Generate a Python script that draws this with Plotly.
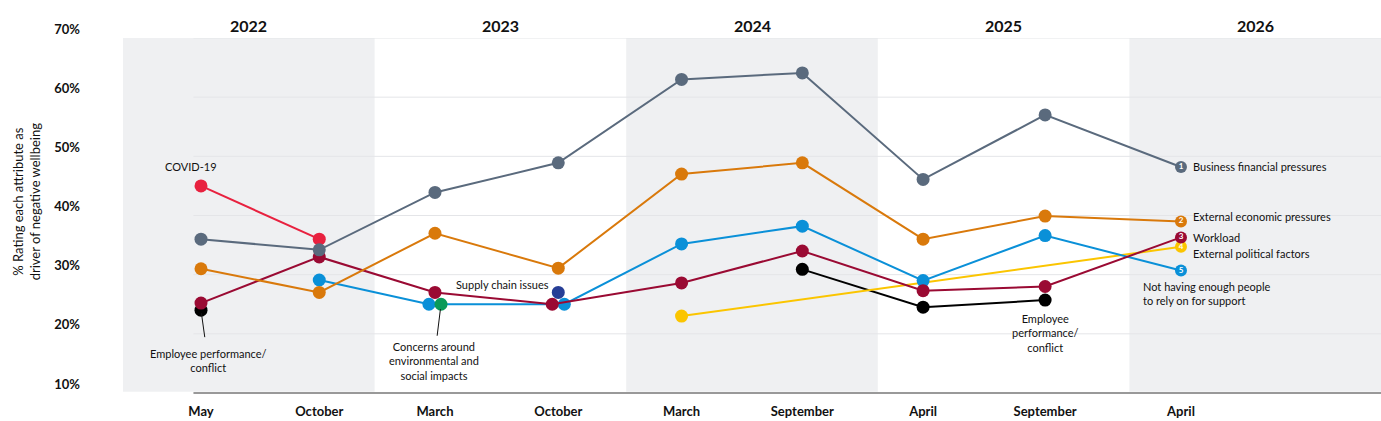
import plotly.graph_objects as go

# ---------------- data ----------------
years = ["2022", "2023", "2024", "2025", "2026"]
survey_labels = ["May", "October", "March", "October", "March", "September", "April", "September", "April"]
# survey timing expressed in fractional years
survey_x = [2022.31, 2022.78, 2023.24, 2023.73, 2024.22, 2024.70, 2025.18, 2025.665, 2026.205]

business_financial = [36.0, 34.2, 43.9, 48.9, 63.0, 64.1, 46.1, 57.0, 48.2]
external_economic = [31.0, 27.0, 37.0, 31.1, 47.0, 48.9, 36.0, 39.9, 39.0]
workload = [25.2, 33.0, 27.0, 25.0, 28.6, 34.0, 27.3, 28.0, 36.3]
not_enough_people = [None, 29.1, 25.0, 25.0, 35.2, 38.2, 29.0, 36.6, 30.7]
external_political = [None, None, None, None, 23.0, None, None, None, 34.7]
employee_conflict = [24.0, None, None, None, None, 30.9, 24.5, 25.7, None]
covid = [45.0, 36.0, None, None, None, None, None, None, None]
environmental = [None, None, 25.0, None, None, None, None, None, None]
supply_chain = [None, None, None, 27.0, None, None, None, None, None]

# small horizontal nudges (in years) so overlapping dots stay visible
nudge = 0.024
blue_nudge = [0, 0, -nudge, nudge, 0, 0, 0, 0, 0]
workload_nudge = [0, 0, 0, -nudge, 0, 0, 0, 0, 0]
green_nudge = [0, 0, nudge, 0, 0, 0, 0, 0, 0]

FONT = "Lato"
C_GRAY = "#5a6a7d"
C_ORANGE = "#d9790b"
C_RED = "#e8213f"
C_WORK = "#9a0a33"
C_BLUE = "#0a90d8"
C_YELLOW = "#fbc500"
C_BLACK = "#000000"
C_GREEN = "#0a9a5a"
C_NAVY = "#263e96"

fig = go.Figure()

# background year bands
for i, yr in enumerate(years):
    if i % 2 == 0:
        fig.add_shape(type="rect", xref="x", yref="y", x0=2022 + i, x1=2023 + i, y0=10.2, y1=70,
                      fillcolor="#eff0f2", line_width=0, layer="below")
# gridlines
for v in [20, 30, 40, 50, 60, 70]:
    fig.add_shape(type="line", xref="x", yref="y", x0=2022.28, x1=2027, y0=v, y1=v,
                  line=dict(color="#e4e5e8", width=1), layer="below")
# baseline (paper coordinates so it is not clipped at the plot edge)
fig.add_shape(type="line", xref="paper", yref="paper", x0=0.056, x1=1, y0=0, y1=0,
              line=dict(color="#999999", width=2), layer="above")


def add_series(values, color, number=None, offsets=None, connect=True):
    xs, ys, sizes, texts = [], [], [], []
    last = max(i for i, v in enumerate(values) if v is not None)
    for i, v in enumerate(values):
        xs.append(survey_x[i] + (offsets[i] if offsets else 0))
        ys.append(v)
        if number is not None and i == last:
            sizes.append(12)
            texts.append(str(number))
        else:
            sizes.append(13)
            texts.append("")
    fig.add_trace(go.Scatter(
        x=xs, y=ys, mode="lines+markers+text" if number else "lines+markers",
        connectgaps=connect,
        line=dict(color=color, width=2),
        marker=dict(color=color, size=sizes, opacity=1, line=dict(width=0)),
        text=texts, textposition="middle center",
        textfont=dict(family=FONT, size=8, color="white", weight="bold"),
        hoverinfo="skip", showlegend=False, cliponaxis=False))


add_series(employee_conflict[:1] + [None] * 8, C_BLACK)
add_series([None] * 5 + employee_conflict[5:], C_BLACK)
add_series(covid, C_RED)
add_series(external_political, C_YELLOW, 4)
add_series(not_enough_people, C_BLUE, 5, blue_nudge)
add_series(workload, C_WORK, 3, workload_nudge)
add_series(external_economic, C_ORANGE, 2)
add_series(business_financial, C_GRAY, 1)
add_series(environmental, C_GREEN, None, green_nudge)
add_series(supply_chain, C_NAVY)

ann = []
afont = dict(family=FONT, size=11, color="#111111")
# year labels
for i, yr in enumerate(years):
    ann.append(dict(x=2022.5 + i, y=1.068, xref="x", yref="paper", text="<b>%s</b>" % yr,
                    showarrow=False, font=dict(family=FONT, size=16, color="#111111")))
# y-axis title
ann.append(dict(x=-0.076, y=0.541, xref="paper", yref="paper", textangle=-90,
                xanchor="center", yanchor="middle",
                text="% Rating each attribute as<br>driver of negative wellbeing",
                showarrow=False, font=dict(family=FONT, size=13, color="#111111")))
# end labels
ann += [
    dict(x=survey_x[8], y=business_financial[8], text="Business financial pressures",
         xanchor="left", xshift=10, showarrow=False, font=afont),
    dict(x=survey_x[8], y=external_economic[8], text="External economic pressures",
         xanchor="left", xshift=10, yshift=5, showarrow=False, font=afont),
    dict(x=survey_x[8], y=workload[8], text="Workload",
         xanchor="left", xshift=10, yshift=0, showarrow=False, font=afont),
    dict(x=survey_x[8], y=external_political[8], text="External political factors",
         xanchor="left", xshift=10, yshift=-7, showarrow=False, font=afont),
    dict(x=survey_x[8], y=not_enough_people[8], text="Not having enough people<br>to rely on for support",
         xanchor="left", align="left", xshift=-40, yshift=-23, showarrow=False, font=afont),
    dict(x=survey_x[0], y=covid[0], text="COVID-19", yshift=19, xshift=-10,
         showarrow=False, font=afont),
    dict(x=survey_x[0], y=employee_conflict[0], text="Employee performance/<br>conflict",
         showarrow=True, arrowhead=0, arrowwidth=1, arrowcolor="#111111", ax=7, ay=50,
         standoff=3, borderpad=9, font=afont),
    dict(x=survey_x[2] + nudge, y=environmental[2], text="Concerns around<br>environmental and<br>social impacts",
         showarrow=True, arrowhead=0, arrowwidth=1, arrowcolor="#111111", ax=-7, ay=57,
         standoff=5, borderpad=4, font=afont),
    dict(x=survey_x[3], y=supply_chain[3], text="Supply chain issues", xanchor="right",
         xshift=-7, yshift=8, showarrow=False, font=afont),
    dict(x=survey_x[7], y=employee_conflict[7], text="Employee<br>performance/<br>conflict",
         yshift=-33, showarrow=False, font=afont),
]

fig.update_layout(
    width=1381, height=421,
    margin=dict(l=123, r=0, t=38, b=28),
    paper_bgcolor="white", plot_bgcolor="white",
    annotations=ann,
    xaxis=dict(range=[2022, 2027], showgrid=False, zeroline=False, showline=False,
               tickvals=survey_x, ticktext=["<b>%s</b>" % m for m in survey_labels],
               tickfont=dict(family=FONT, size=13, color="#111111"), ticks="",
               ticklabelstandoff=9, fixedrange=True),
    yaxis=dict(range=[10, 70], showgrid=False, zeroline=False, showline=False,
               tickvals=[10, 20, 30, 40, 50, 60, 70],
               ticktext=["<b>%d%%</b>" % v for v in [10, 20, 30, 40, 50, 60, 70]],
               tickfont=dict(family=FONT, size=13, color="#111111"), ticks="",
               ticklabelstandoff=42, ticklabelshift=-9, fixedrange=True),
)

fig.write_html("out.html")
